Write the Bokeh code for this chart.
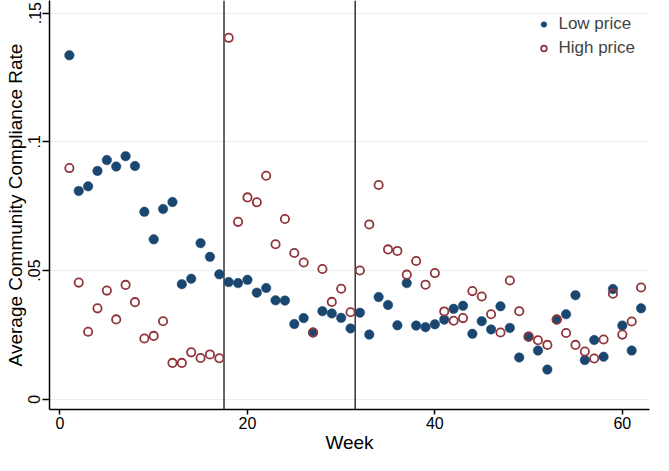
from bokeh.plotting import figure
from bokeh.models import Range1d, FixedTicker, Span, Legend, LegendItem
from bokeh.embed import file_html
from bokeh.resources import INLINE

weeks = list(range(1, 63))
low_price = [0.1336, 0.0809, 0.0827, 0.0887, 0.0929, 0.0904, 0.0944, 0.0906, 0.0728, 0.0621,
             0.0739, 0.0766, 0.0447, 0.0468, 0.0606, 0.0553, 0.0485, 0.0455, 0.0451, 0.0464,
             0.0414, 0.0432, 0.0384, 0.0383, 0.0292, 0.0315, 0.0259, 0.0342, 0.0333, 0.0316,
             0.0275, 0.0336, 0.0251, 0.0397, 0.0366, 0.0287, 0.0451, 0.0286, 0.0280, 0.0291,
             0.0309, 0.0351, 0.0363, 0.0254, 0.0303, 0.0271, 0.0361, 0.0277, 0.0162, 0.0243,
             0.0189, 0.0115, 0.0310, 0.0330, 0.0404, 0.0152, 0.0230, 0.0165, 0.0428, 0.0286,
             0.0189, 0.0353]
high_price = [0.0898, 0.0453, 0.0262, 0.0353, 0.0422, 0.0310, 0.0444, 0.0377, 0.0236, 0.0246,
              0.0303, 0.0141, 0.0141, 0.0182, 0.0160, 0.0174, 0.0159, 0.1404, 0.0689, 0.0784,
              0.0765, 0.0868, 0.0602, 0.0700, 0.0568, 0.0531, 0.0259, 0.0506, 0.0378, 0.0429,
              0.0338, 0.0500, 0.0679, 0.0832, 0.0582, 0.0576, 0.0484, 0.0537, 0.0445, 0.0490,
              0.0341, 0.0305, 0.0315, 0.0420, 0.0399, 0.0330, 0.0259, 0.0461, 0.0342, 0.0243,
              0.0229, 0.0211, 0.0309, 0.0257, 0.0211, 0.0185, 0.0158, 0.0232, 0.0410, 0.0251,
              0.0302, 0.0434]
breaks = [17.5, 31.5]
x_ticks = [0, 20, 40, 60]
y_ticks = [0, 0.05, 0.1, 0.15]
y_tick_labels = ["0", ".05", ".1", ".15"]

FONT = "Liberation Sans"
NAVY = "#1a476f"
MAROON = "#90353b"

p = figure(width=653, height=455, output_backend="svg", toolbar_location=None,
           x_range=Range1d(-1.12, 62.9), y_range=Range1d(-0.0040, 0.1549),
           min_border_left=49, min_border_right=4, min_border_top=0, min_border_bottom=44)
p.outline_line_color = None
p.background_fill_color = "white"
p.border_fill_color = "white"

# grid
p.xgrid.grid_line_color = None
p.ygrid.grid_line_color = "#e6eef0"
p.ygrid.grid_line_width = 1.2
p.ygrid.ticker = FixedTicker(ticks=y_ticks)

# axes
p.xaxis.ticker = FixedTicker(ticks=x_ticks)
p.yaxis.ticker = FixedTicker(ticks=y_ticks)
p.yaxis.major_label_overrides = {t: l for t, l in zip(y_ticks, y_tick_labels)}
for ax in (p.xaxis[0], p.yaxis[0]):
    ax.axis_line_color = "black"
    ax.axis_line_width = 1.5
    ax.major_tick_line_color = "black"
    ax.major_tick_line_width = 1.5
    ax.major_tick_in = 0
    ax.minor_tick_line_color = None
    ax.major_label_text_font = FONT
    ax.major_label_text_font_size = "16px"
    ax.major_label_text_color = "black"
    ax.axis_label_text_font = FONT
    ax.axis_label_text_font_style = "normal"
    ax.axis_label_text_color = "black"
    ax.axis_label_text_font_size = "19px"
    ax.axis_label_standoff = 0
p.xaxis.major_tick_out = 5
p.xaxis.major_label_standoff = 2
p.xaxis.axis_label = "Week"
p.yaxis.major_tick_out = 7
p.yaxis.major_label_standoff = 2
p.yaxis.major_label_orientation = "vertical"
p.yaxis.axis_label = "Average Community Compliance Rate"

# vertical break lines
for b in breaks:
    p.add_layout(Span(location=b, dimension="height", line_color="#333333",
                      line_width=1.5, level="underlay"))

r_low = p.scatter(weeks, low_price, size=9.5, marker="circle",
                  fill_color=NAVY, line_color=NAVY, line_width=0.5)
r_high = p.scatter(weeks, high_price, size=8.3, marker="circle",
                   fill_color=None, line_color=MAROON, line_width=1.8)

legend = Legend(items=[LegendItem(label="Low price", renderers=[r_low]),
                       LegendItem(label="High price", renderers=[r_high])],
                location="top_right")
legend.margin = 14
legend.padding = 5
legend.spacing = 4
legend.glyph_width = 14
legend.glyph_height = 14
legend.label_height = 20
legend.label_standoff = 8
legend.label_text_font = FONT
legend.label_text_font_size = "17px"
legend.background_fill_color = "white"
legend.background_fill_alpha = 1
legend.border_line_color = None
p.add_layout(legend)

open("out.html", "w").write(file_html(p, INLINE))
